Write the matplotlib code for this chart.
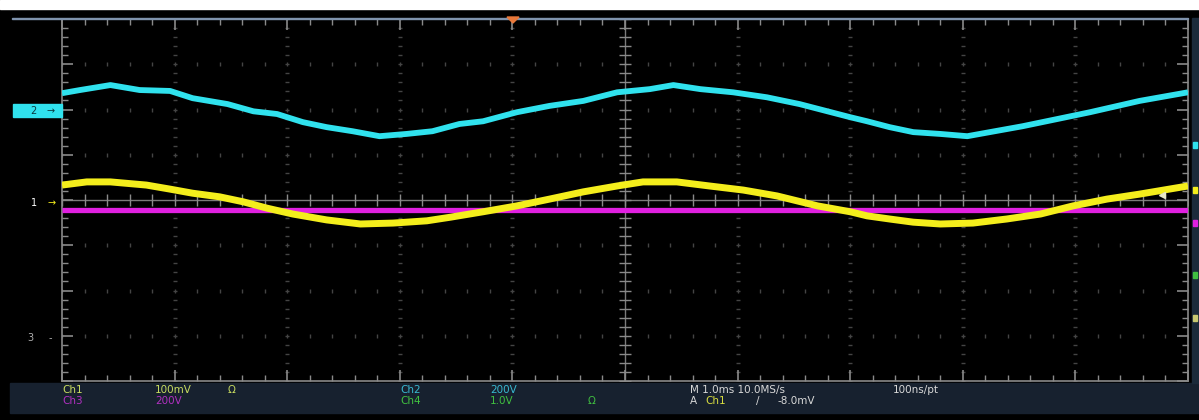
import numpy as np
import matplotlib.pyplot as plt
from matplotlib.patches import Rectangle, Polygon

t_ch2 = [0.0, 0.16, 0.43, 0.69, 0.96, 1.16, 1.47, 1.70, 1.91, 2.14, 2.35, 2.58, 2.82,
         3.06, 3.29, 3.53, 3.74, 4.04, 4.33, 4.63, 4.93, 5.22, 5.43, 5.67, 5.96, 6.26,
         6.55, 7.00, 7.15, 7.35, 7.56, 7.80, 8.04, 8.24, 8.53, 8.84, 9.13, 9.57, 10.0]
v_ch2 = [2.36, 2.43, 2.54, 2.43, 2.41, 2.25, 2.12, 1.96, 1.90, 1.72, 1.61, 1.52, 1.41,
         1.46, 1.52, 1.68, 1.74, 1.94, 2.08, 2.19, 2.38, 2.45, 2.54, 2.45, 2.38, 2.27,
         2.12, 1.83, 1.74, 1.61, 1.50, 1.46, 1.41, 1.50, 1.63, 1.79, 1.94, 2.19, 2.38]

t_ch1 = [0.0, 0.22, 0.43, 0.75, 0.96, 1.16, 1.40, 1.61, 1.82, 2.05, 2.35, 2.65, 2.94,
         3.24, 3.45, 3.74, 4.04, 4.33, 4.63, 4.93, 5.16, 5.46, 5.75, 6.05, 6.35, 6.71,
         7.00, 7.15, 7.35, 7.56, 7.80, 8.09, 8.39, 8.69, 8.98, 9.28, 9.57, 10.0]
v_ch1 = [0.33, 0.40, 0.40, 0.33, 0.24, 0.15, 0.07, -0.04, -0.18, -0.31, -0.44, -0.53, -0.51,
         -0.46, -0.38, -0.26, -0.13, 0.02, 0.18, 0.31, 0.40, 0.40, 0.31, 0.22, 0.09, -0.13,
         -0.26, -0.35, -0.42, -0.49, -0.53, -0.51, -0.42, -0.31, -0.13, 0.02, 0.13, 0.31]

t_ch3 = [0.0, 10.0]
v_ch3 = [-0.22, -0.22]

W, H = 1199, 420
fig = plt.figure(figsize=(W / 100, H / 100), dpi=100, facecolor='black')

def fx(px):
    return px / W

def fy(py):
    return 1 - py / H

# white strip on top and the readout bar at the bottom
fig.patches.append(Rectangle((0, fy(9)), 1, 9 / H, transform=fig.transFigure,
                             color='white', zorder=0))
fig.patches.append(Rectangle((fx(10), fy(413)), 1, 30 / H, transform=fig.transFigure,
                             color='#17212f', zorder=0))
fig.patches.append(Rectangle((fx(1192), fy(383)), 7 / W, 365 / H, transform=fig.transFigure,
                             color='#1b2a3a', zorder=0))
fig.patches.append(Rectangle((fx(12), fy(19)), fx(1176), 1.5 / H, transform=fig.transFigure,
                             color='#7f93ad', zorder=0))

ax = fig.add_axes([fx(62), fy(381), fx(1126), 362 / H])
ax.set_facecolor('black')
ax.set_xlim(0, 10)
ax.set_ylim(-4, 4)

gcol = '#8a8a8a'
for s in ax.spines.values():
    s.set_color(gcol)
    s.set_linewidth(1.2)
ax.set_xticks(np.arange(0, 10.01, 1))
ax.set_xticks(np.arange(0, 10.01, 0.2), minor=True)
ax.set_yticks(np.arange(-4, 4.01, 1))
ax.set_yticks(np.arange(-4, 4.01, 0.2), minor=True)
ax.tick_params(which='both', direction='in', colors=gcol, top=True, right=True,
               labelbottom=False, labelleft=False)
ax.tick_params(which='major', length=8, width=1.2)
ax.tick_params(which='minor', length=4, width=1)

# dotted graticule
sub_x = np.arange(0, 10.01, 0.2)
sub_y = np.arange(-4, 4.01, 0.2)
for gx in range(1, 10):
    if gx == 5:
        continue
    ax.plot(np.full_like(sub_y, gx), sub_y, ls='none', marker='_', ms=2.5,
            mew=1, color='#444444', zorder=1)
for gy in range(-3, 4):
    if gy == 0:
        continue
    ax.plot(sub_x, np.full_like(sub_x, gy), ls='none', marker='|', ms=2.5,
            mew=1, color='#444444', zorder=1)

# centre cross with ticks
ax.axvline(5, color='#7a7a7a', lw=1, zorder=1)
ax.axhline(0, color='#7a7a7a', lw=1, zorder=1)
ax.plot(np.full_like(sub_y, 5), sub_y, ls='none', marker='_', ms=8, mew=1,
        color='#8a8a8a', zorder=1)
ax.plot(sub_x, np.zeros_like(sub_x), ls='none', marker='|', ms=8, mew=1,
        color='#8a8a8a', zorder=1)

# traces
ax.plot(t_ch3, v_ch3, color='#e020e0', lw=3.8, solid_capstyle='butt', zorder=3)
ax.plot(t_ch1, v_ch1, color='#f4ee1c', lw=5, solid_capstyle='butt',
        solid_joinstyle='round', zorder=4)
ax.plot(t_ch2, v_ch2, color='#30e2ee', lw=4.2, solid_capstyle='butt',
        solid_joinstyle='round', zorder=4)

# trigger markers
fig.patches.append(Polygon([[fx(507), fy(17)], [fx(519), fy(17)], [fx(513), fy(23)]],
                           closed=True, transform=fig.transFigure, color='#e8783a'))
ax.plot([9.77], [0.10], marker='<', ms=5, color='#e8e8c8', zorder=5)

# channel markers on the left
fig.patches.append(Rectangle((fx(13), fy(117)), 49 / W, 13 / H, transform=fig.transFigure,
                             color='#30e2ee'))
fig.text(fx(33), fy(111), '2', color='#0a3a40', fontsize=7, ha='center', va='center')
fig.text(fx(51), fy(111), '\u2192', color='#0a3a40', fontsize=7, ha='center', va='center')
fig.text(fx(34), fy(203), '1', color='white', fontsize=7, ha='center', va='center')
fig.text(fx(52), fy(203), '\u2192', color='#f4ee1c', fontsize=7, ha='center', va='center')
fig.text(fx(30), fy(338), '3', color='#b0b0b0', fontsize=7, ha='center', va='center')
fig.text(fx(50), fy(338), '-', color='#b0b0b0', fontsize=7, ha='center', va='center')

# right side small markers
for py, c in [(145, '#30e2ee'), (190, '#f4ee1c'), (223, '#e020e0'),
              (275, '#40c040'), (318, '#c8c870')]:
    fig.patches.append(Rectangle((fx(1193), fy(py + 3)), 4 / W, 6 / H,
                                 transform=fig.transFigure, color=c))

# readout text
fs = 7.5
r1, r2 = fy(390), fy(401)
readout = [
    (62, r1, 'Ch1', '#c8dc60'), (155, r1, '100mV', '#c8dc60'), (228, r1, '\u03a9', '#c8dc60'),
    (62, r2, 'Ch3', '#b030c0'), (155, r2, '200V', '#b030c0'),
    (400, r1, 'Ch2', '#38b8d0'), (490, r1, '200V', '#38b8d0'),
    (400, r2, 'Ch4', '#40c040'), (490, r2, '1.0V', '#40c040'), (588, r2, '\u03a9', '#40c040'),
    (690, r1, 'M 1.0ms 10.0MS/s', '#d8d8d8'), (893, r1, '100ns/pt', '#d8d8d8'),
    (690, r2, 'A', '#d8d8d8'), (705, r2, 'Ch1', '#d8dc40'),
    (756, r2, '/', '#d8d8d8'), (778, r2, '-8.0mV', '#d8d8d8'),
]
for px, y, s, c in readout:
    fig.text(fx(px), y, s, color=c, fontsize=fs, ha='left', va='center')

fig.savefig('out.png', dpi=100, facecolor='black')
